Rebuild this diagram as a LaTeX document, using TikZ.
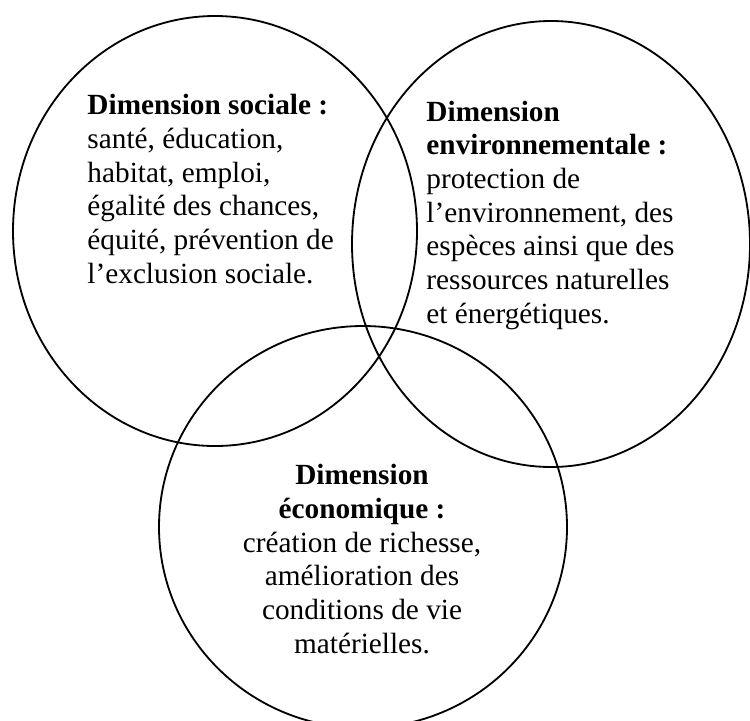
\documentclass[tikz,border=0pt]{standalone}
\usepackage{fontspec}
\setmainfont{Liberation Serif}
\usepackage{tikz}

\begin{document}
\begin{tikzpicture}[
  x=0.41pt, y=-0.41pt,
  ring/.style={draw, line width=0.75pt},
  blurb/.style={
    inner sep=0pt,
    font=\fontsize{12}{13.8}\selectfont
  }
]
  \useasboundingbox (0,0) rectangle (750,720);
  % the three dimensions
  \foreach \c/\x/\y/\rx/\ry in {soc/215/231/202/215,env/551/244/199/223,eco/363/527/204/201} {
    \coordinate (\c) at (\x,\y);
    \draw[ring] (\c) ellipse [x radius=\rx, y radius=\ry];
  }
  % texts, placed by the baseline of their last line
  \node[blurb, anchor=base west, align=left] (tsoc) at (87,283)
    {\textbf{Dimension sociale :}\\santé, éducation,\\habitat, emploi,\\égalité des chances,\\équité, prévention de\\l’exclusion sociale.};
  \node[blurb, anchor=base west, align=left] (tenv) at (426,323)
    {\textbf{Dimension}\\\textbf{environnementale :}\\protection de\\l’environnement, des\\espèces ainsi que des\\ressources naturelles\\et énergétiques.};
  \node[blurb, anchor=base, align=center] (teco) at (362,653)
    {\textbf{Dimension}\\\textbf{économique :}\\création de richesse,\\amélioration des\\conditions de vie\\matérielles.};
\end{tikzpicture}
\end{document}
